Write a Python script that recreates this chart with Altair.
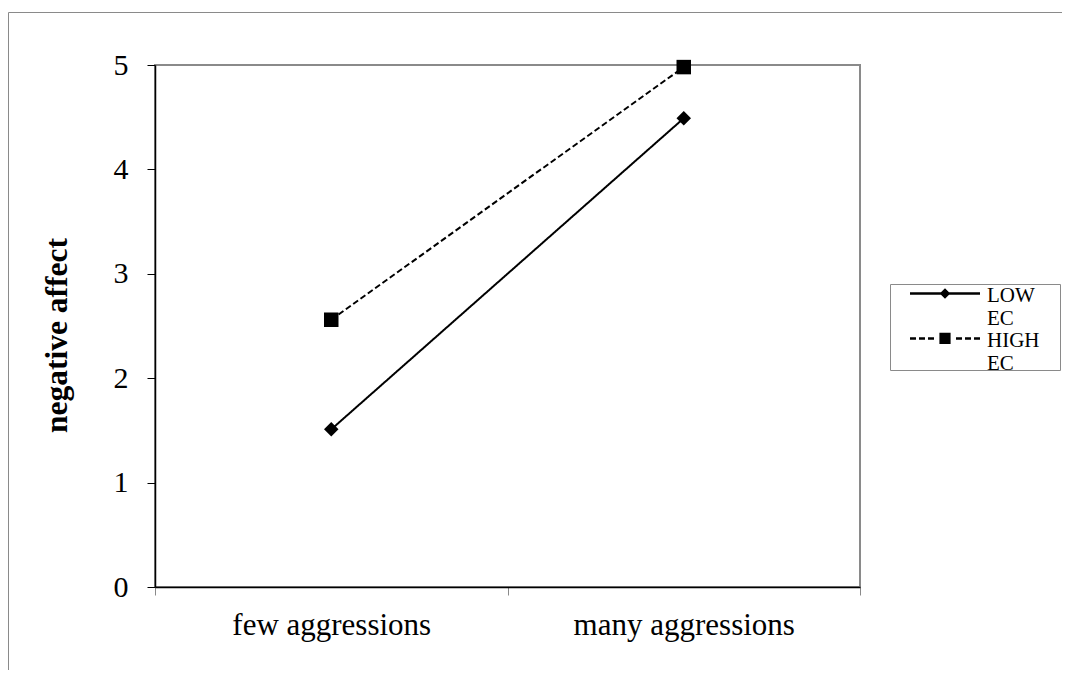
import altair as alt
import pandas as pd

# ---- data ----
categories = ["few aggressions", "many aggressions"]
series = ["LOW EC", "HIGH EC"]
low_ec = [1.51, 4.49]
high_ec = [2.56, 4.98]
y_ticks = [0, 1, 2, 3, 4, 5]

rows = []
for s, vals in zip(series, [low_ec, high_ec]):
    for c, v in zip(categories, vals):
        rows.append({"condition": c, "series": s, "value": v})
df = pd.DataFrame(rows)

FONT = "Liberation Serif"
GRAY = "#8a8a8a"

x_enc = alt.X(
    "condition:N",
    sort=categories,
    bandPosition=0.5,
    scale=alt.Scale(type="band", domain=categories, paddingInner=0, paddingOuter=0),
    axis=alt.Axis(
        title=None, tickBand="extent", labelAngle=0, labelFont=FONT,
        labelFontSize=31, labelColor="black", labelPadding=15, labelLimit=500,
        domainColor="black", domainWidth=1.5, tickColor=GRAY,
        tickSize=8, tickWidth=1, grid=False,
    ),
)
y_enc = alt.Y(
    "value:Q",
    scale=alt.Scale(domain=[0, 5], nice=False),
    axis=alt.Axis(
        title="negative affect", values=y_ticks, grid=False,
        labelFont=FONT, labelFontSize=30, labelColor="black", labelPadding=19,
        domainColor="black", domainWidth=1.5, tickColor="black", tickSize=8,
        tickWidth=1, titleFont=FONT, titleFontSize=31.5, titleFontWeight="bold",
        titleColor="black", titlePadding=40, titleY=270,
    ),
)

dash_range = [[1, 0], [6, 3]]

lines = alt.Chart(df).mark_line(color="black", strokeWidth=2).encode(
    x=x_enc, y=y_enc,
    strokeDash=alt.StrokeDash("series:N", scale=alt.Scale(domain=series, range=dash_range), legend=None),
)

points = alt.Chart(df).mark_point(filled=True, color="black", size=210, opacity=1).encode(
    x=x_enc, y=y_enc,
    shape=alt.Shape("series:N", scale=alt.Scale(domain=series, range=["diamond", "square"]), legend=None),
)

# legend glyphs drawn as filled paths: a line (solid / dashed) with the marker in its middle,
# raised so that it sits on the first text line of the label
diamond_path = (
    "M-1,-0.265H1V-0.195H-1Z"
    "M-0.15,-0.23L0,-0.38L0.15,-0.23L0,-0.08Z"
)
square_path = (
    "M-1,-0.265H-0.829V-0.195H-1Z"
    "M-0.743,-0.265H-0.571V-0.195H-0.743Z"
    "M-0.486,-0.265H-0.314V-0.195H-0.486Z"
    "M0.314,-0.265H0.486V-0.195H0.314Z"
    "M0.571,-0.265H0.743V-0.195H0.571Z"
    "M0.829,-0.265H1V-0.195H0.829Z"
    "M-0.16,-0.39H0.16V-0.07H-0.16Z"
)

leg = alt.Legend(
    title=None, orient="none", legendX=755, legendY=219,
    labelFont=FONT, labelFontSize=21, labelColor="black", labelLimit=300,
    labelExpr="split(datum.label, ' ')", labelBaseline="alphabetic",
    symbolSize=4900, symbolStrokeWidth=0, symbolFillColor="black",
    symbolOpacity=1, rowPadding=0, clipHeight=35,
    labelOffset=7, padding=0,
)

legend_layer = alt.Chart(df).transform_filter("false").mark_point(
    filled=True, color="black", opacity=1
).encode(
    shape=alt.Shape("series:N", scale=alt.Scale(domain=series, range=[diamond_path, square_path]), legend=leg),
)

one = pd.DataFrame({"a": [0]})
outer_frame = alt.Chart(one).mark_rect(fill="transparent", stroke=GRAY, strokeWidth=1).encode(
    x=alt.value(-146.5), y=alt.value(-52.5), x2=alt.value(1100), y2=alt.value(700)
)
legend_box = alt.Chart(one).mark_rect(fill="transparent", stroke=GRAY, strokeWidth=1).encode(
    x=alt.value(735.5), y=alt.value(219.5), x2=alt.value(905.5), y2=alt.value(305.5)
)

chart = alt.layer(outer_frame, lines, points, legend_layer, legend_box).resolve_scale(
    shape="independent"
).properties(
    width=705, height=522,
    padding={"left": 147, "top": 57, "right": 202, "bottom": 83},
    autosize=alt.AutoSizeParams(type="none"),
).configure_view(stroke=GRAY, strokeWidth=2)

chart.save("out.html", embed_options={"renderer": "svg", "actions": False})
